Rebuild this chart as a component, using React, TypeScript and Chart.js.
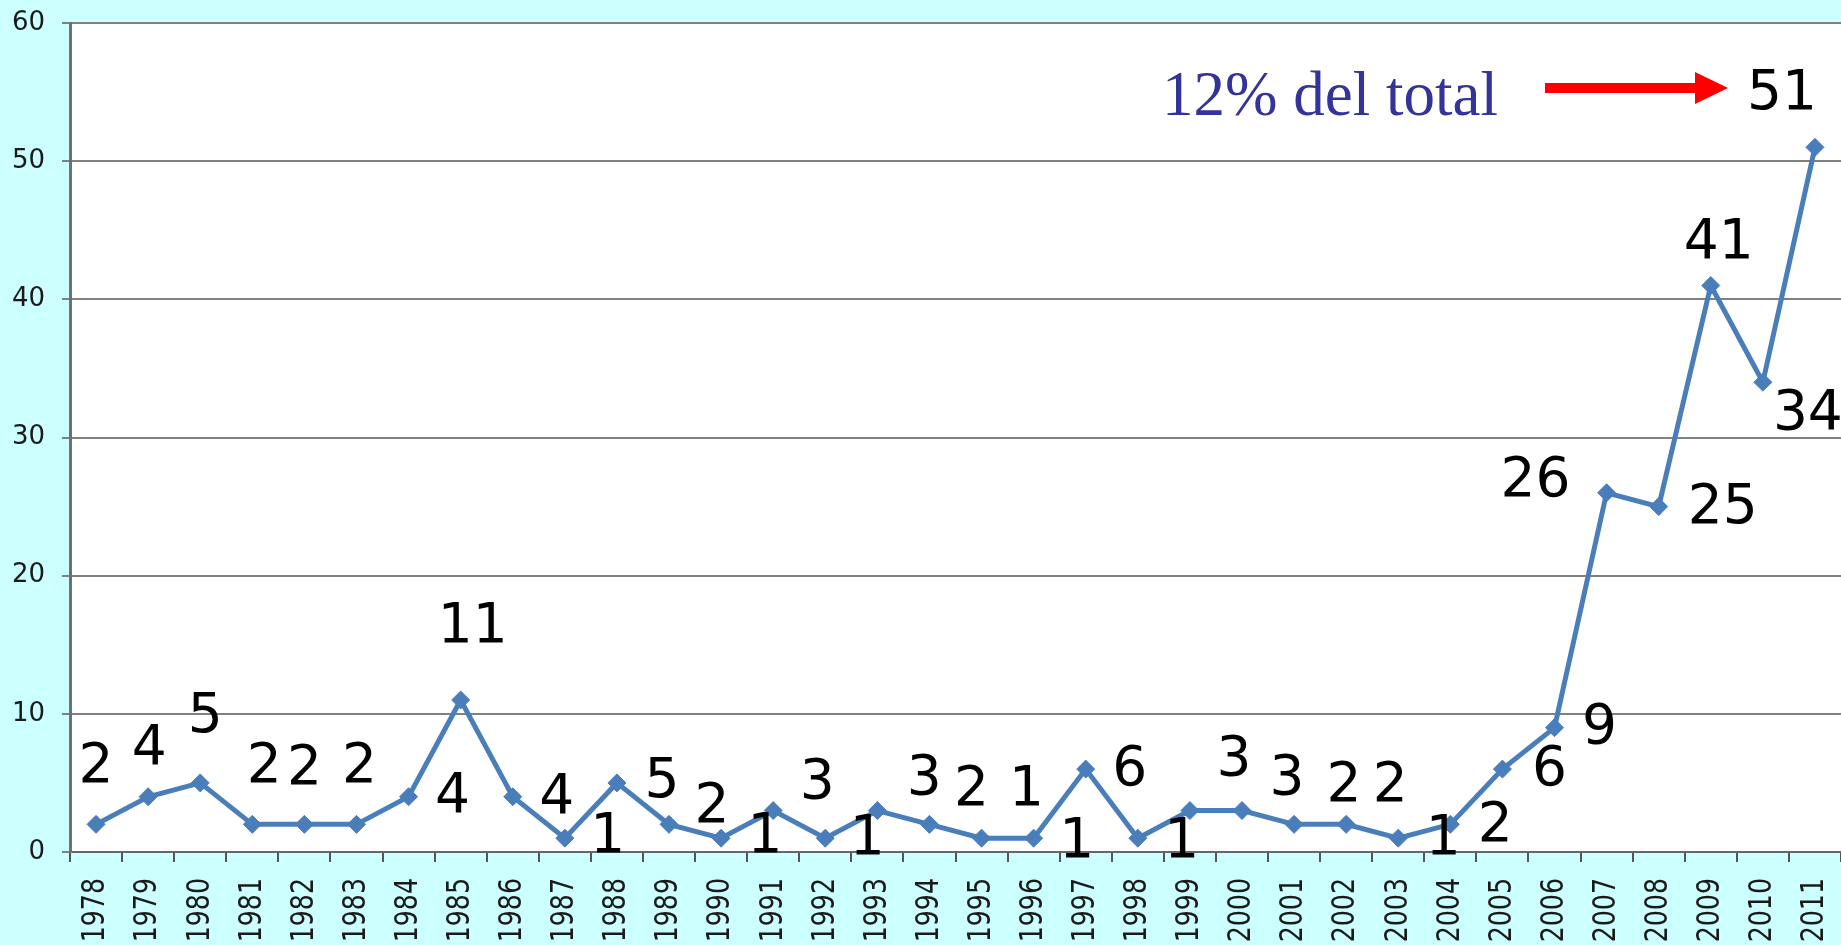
import React, { useEffect, useRef } from "react";
import { Chart, registerables } from "chart.js";

Chart.register(...registerables);

// ---- data ----
const YEARS: string[] = [
  "1978", "1979", "1980", "1981", "1982", "1983", "1984", "1985", "1986", "1987",
  "1988", "1989", "1990", "1991", "1992", "1993", "1994", "1995", "1996", "1997",
  "1998", "1999", "2000", "2001", "2002", "2003", "2004", "2005", "2006", "2007",
  "2008", "2009", "2010", "2011",
];
const COUNTS: number[] = [
  2, 4, 5, 2, 2, 2, 4, 11, 4, 1,
  5, 2, 1, 3, 1, 3, 2, 1, 1, 6,
  1, 3, 3, 2, 2, 1, 2, 6, 9, 26,
  25, 41, 34, 51,
];
const Y_MIN = 0;
const Y_MAX = 60;
const Y_STEP = 10;
const ANNOTATION_TEXT = "12% del total";

// ---- label placement (pixel offsets from each point, layout only) ----
const LABEL_DX: number[] = [
  0, 1, 5, 12, 0, 3, 44, 12, 44, 43,
  45, 43, 44, 44, 42, 47, 42, 45, 43, 44,
  44, 44, 45, 50, 44, 45, 45, 47, 45, -71,
  64, 8, 45, -33,
];
const LABEL_DY: number[] = [
  -57, -47, -65, -57, -55, -57, 1, -72, 2, 0,
  0, -17, 0, -27, 2, -31, -34, -47, 5, 2,
  5, -50, -31, -38, -38, 2, 2, 2, 1, -11,
  2, -42, 32, -53,
];

const BG = "#CCFFFF";
const LINE = "#4A7EBB";

const bgPlugin = {
  id: "bgPlugin",
  beforeDraw(chart: any) {
    const { ctx, chartArea } = chart;
    ctx.save();
    ctx.fillStyle = BG;
    ctx.fillRect(0, 0, chart.width, chart.height);
    ctx.fillStyle = "#FFFFFF";
    ctx.fillRect(chartArea.left, chartArea.top, chartArea.right - chartArea.left, chartArea.bottom - chartArea.top);
    ctx.restore();
  },
};

const labelsPlugin = {
  id: "labelsPlugin",
  afterDraw(chart: any) {
    const { ctx } = chart;
    const meta = chart.getDatasetMeta(0);
    ctx.save();
    // data labels
    ctx.font = "55px 'DejaVu Sans'";
    ctx.fillStyle = "#000000";
    ctx.textAlign = "center";
    ctx.textBaseline = "middle";
    meta.data.forEach((pt: any, i: number) => {
      ctx.fillText(String(COUNTS[i]), pt.x + LABEL_DX[i], pt.y + LABEL_DY[i]);
    });
    // x axis labels (rotated, narrow)
    const xs = chart.scales.x;
    ctx.fillStyle = "#1a1a1a";
    ctx.font = "32px 'DejaVu Sans'";
    ctx.textAlign = "right";
    ctx.textBaseline = "middle";
    YEARS.forEach((y, i) => {
      const x = xs.getPixelForValue(i);
      ctx.save();
      ctx.translate(x, xs.top + 26);
      ctx.rotate(-Math.PI / 2);
      ctx.scale(0.79, 1);
      ctx.fillText(y, 0, 0);
      ctx.restore();
    });
    // annotation
    ctx.font = "63px 'Liberation Serif'";
    ctx.fillStyle = "#333399";
    ctx.textAlign = "left";
    ctx.textBaseline = "alphabetic";
    ctx.fillText(ANNOTATION_TEXT, 1162, 115);
    // arrow
    ctx.fillStyle = "#FF0000";
    ctx.fillRect(1545, 83, 152, 10);
    ctx.beginPath();
    ctx.moveTo(1695, 72);
    ctx.lineTo(1728, 88);
    ctx.lineTo(1695, 104);
    ctx.closePath();
    ctx.fill();
    ctx.restore();
  },
};

export default function App() {
  const ref = useRef<HTMLCanvasElement | null>(null);
  useEffect(() => {
    if (!ref.current) return;
    const chart = new Chart(ref.current, {
      type: "line",
      data: {
        labels: YEARS,
        datasets: [
          {
            data: COUNTS,
            borderColor: LINE,
            backgroundColor: LINE,
            borderWidth: 5,
            tension: 0,
            pointStyle: "rectRot",
            pointRadius: 9,
            pointBorderWidth: 1,
            pointBackgroundColor: LINE,
            pointBorderColor: LINE,
          },
        ],
      },
      options: {
        animation: false,
        responsive: false,
        devicePixelRatio: 1,
        layout: { autoPadding: false, padding: { top: 23, right: 0, left: 0, bottom: 0 } },
        plugins: { legend: { display: false }, tooltip: { enabled: false } },
        scales: {
          x: {
            type: "category",
            offset: true,
            grid: {
              offset: true,
              drawOnChartArea: false,
              drawTicks: true,
              tickLength: 10,
              color: "#555555",
              lineWidth: 2,
            },
            border: { display: true, color: "#666666", width: 2 },
            ticks: { display: false },
            afterFit: (s: any) => {
              s.height = 93;
              s.paddingLeft = 0;
              s.paddingRight = 0;
            },
          },
          y: {
            min: Y_MIN,
            max: Y_MAX,
            ticks: {
              stepSize: Y_STEP,
              color: "#1a1a1a",
              font: { family: "'DejaVu Sans'", size: 26 },
              padding: 17,
            },
            grid: {
              color: "#808080",
              lineWidth: 2,
              drawTicks: true,
              tickLength: 8,
            },
            border: { display: true, color: "#707070", width: 3 },
            afterFit: (s: any) => {
              s.width = 70;
              s.paddingTop = 0;
              s.paddingBottom = 0;
            },
          },
        },
      },
      plugins: [bgPlugin, labelsPlugin],
    } as any);
    return () => chart.destroy();
  }, []);
  return (
    <div style={{ position: "absolute", left: 0, top: 0, width: 1841, height: 945, background: BG }}>
      <canvas ref={ref} width={1841} height={945} style={{ display: "block" }} />
    </div>
  );
}
